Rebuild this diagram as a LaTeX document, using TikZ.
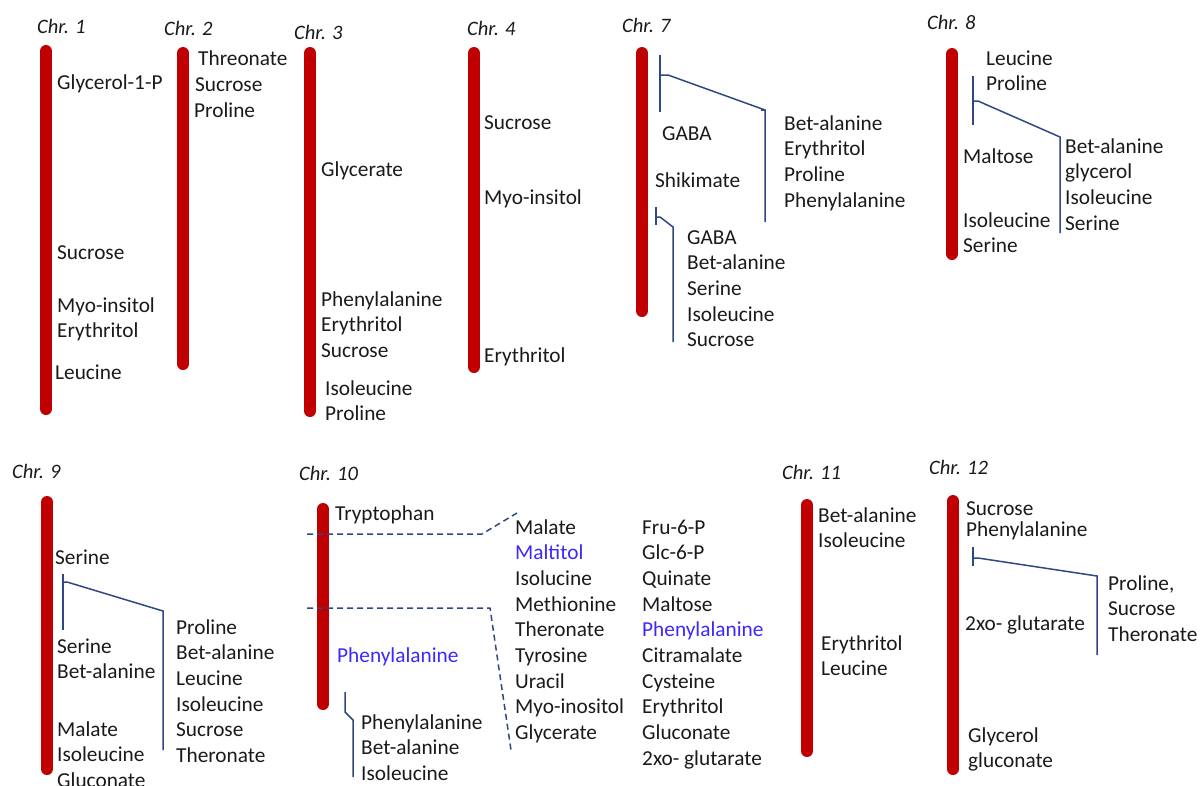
\documentclass[tikz,border=0pt]{standalone}
\usepackage{fontspec}
\setmainfont{Carlito}
\definecolor{chrred}{RGB}{192,0,0}
\definecolor{navy}{RGB}{47,72,132}
\definecolor{txt}{RGB}{26,26,26}
\definecolor{bluet}{RGB}{60,40,255}
\newcommand\mylist[4]{\foreach \t [count=\i] in {#4} {\node[lbl] (#1-\i) at (#2, {#3+(\i-1)*25.7}) {\t};}}
\tikzset{
  lbl/.style={font=\fontsize{21.3}{25.7}\selectfont, text=txt, inner sep=0pt, anchor=base west},
  chrlab/.style={font=\itshape\fontsize{20.5}{24}\selectfont, text=txt, inner sep=0pt, anchor=base west},
  bar/.style={draw=chrred, line width=12pt, line cap=round},
  link/.style={draw=navy, line width=1.5pt},
  dlink/.style={draw=navy, line width=1.5pt, dash pattern=on 6pt off 4pt}
}
\begin{document}
\begin{tikzpicture}[x=1pt,y=-1pt]
\useasboundingbox (0,0) rectangle (1200,785);
% chromosome labels
\node[chrlab] (l1) at (37,33) {Chr. 1};
\node[chrlab] (l2) at (164,35) {Chr. 2};
\node[chrlab] (l3) at (294,39) {Chr. 3};
\node[chrlab] (l4) at (467,35) {Chr. 4};
\node[chrlab] (l7) at (622,32) {Chr. 7};
\node[chrlab] (l8) at (927,29) {Chr. 8};
\node[chrlab] (l9) at (12,478) {Chr. 9};
\node[chrlab] (l10) at (299,480) {Chr. 10};
\node[chrlab] (l11) at (782,479) {Chr. 11};
\node[chrlab] (l12) at (929,474) {Chr. 12};
% bars
\draw[bar] (46,51) -- (46,409);
\draw[bar] (183,53) -- (183,364);
\draw[bar] (310,53) -- (310,411);
\draw[bar] (474,53) -- (474,367);
\draw[bar] (642,53) -- (642,311);
\draw[bar] (952,54) -- (952,254);
\draw[bar] (47,502) -- (47,769);
\draw[bar] (323,509) -- (323,704);
\draw[bar] (807,505) -- (807,751);
\draw[bar] (953,501) -- (953,769);
% Chr 1
\node[lbl] (c1a) at (57,89) {Glycerol-1-P};
\node[lbl] (c1b) at (57,259) {Sucrose};
\mylist{c1c}{57}{312}{Myo-insitol,Erythritol}
\node[lbl] (c1d) at (55,379) {Leucine};
% Chr 2
\node[lbl] (c2a) at (198,65) {Threonate};
\node[lbl] (c2b) at (195,91) {Sucrose};
\node[lbl] (c2c) at (194,117) {Proline};
% Chr 3
\node[lbl] (c3a) at (321,176) {Glycerate};
\mylist{c3b}{321}{306}{Phenylalanine,Erythritol,Sucrose}
\mylist{c3c}{325}{395}{Isoleucine,Proline}
% Chr 4
\node[lbl] (c4a) at (484,129) {Sucrose};
\node[lbl] (c4b) at (484,204) {Myo-insitol};
\node[lbl] (c4c) at (484,362) {Erythritol};
% Chr 7
\node[lbl] (c7a) at (662,140) {GABA};
\node[lbl] (c7b) at (655,187) {Shikimate};
\mylist{c7r}{784}{130}{Bet-alanine,Erythritol,Proline,Phenylalanine}
\mylist{c7l}{687}{244}{GABA,Bet-alanine,Serine,Isoleucine,Sucrose}
\coordinate (k7a) at (660,55); \coordinate (k7b) at (660,112);
\coordinate (k7c) at (660,75); \coordinate (k7d) at (668,75);
\coordinate (k7e) at (765,110); \coordinate (k7f) at (765,222); \coordinate (k7g) at (761,110);
\draw[link] (k7a) -- (k7b);
\draw[link] (k7c) -- (k7d) -- (k7e) -- (k7f);
\draw[link] (k7g) -- (k7e);
\coordinate (k7h) at (656,207); \coordinate (k7i) at (656,225);
\coordinate (k7j) at (656,217); \coordinate (k7k) at (660,217);
\coordinate (k7l) at (673,227); \coordinate (k7m) at (673,342);
\draw[link] (k7h) -- (k7i);
\draw[link] (k7j) -- (k7k) -- (k7l) -- (k7m);
% Chr 8
\mylist{c8a}{986}{65}{Leucine,Proline}
\node[lbl] (c8b) at (963,163) {Maltose};
\mylist{c8c}{963}{227}{Isoleucine,Serine}
\mylist{c8r}{1065}{153}{Bet-alanine,glycerol,Isoleucine,Serine}
\coordinate (k8a) at (973,76); \coordinate (k8b) at (973,125);
\coordinate (k8c) at (973,101); \coordinate (k8d) at (978,101);
\coordinate (k8e) at (1060,137); \coordinate (k8f) at (1060,233);
\draw[link] (k8a) -- (k8b);
\draw[link] (k8c) -- (k8d) -- (k8e) -- (k8f);
% Chr 9
\node[lbl] (c9a) at (55,564) {Serine};
\mylist{c9b}{57}{653}{Serine,Bet-alanine}
\mylist{c9c}{57}{736}{Malate,Isoleucine,Gluconate}
\mylist{c9r}{176}{634}{Proline,Bet-alanine,Leucine,Isoleucine,Sucrose,Theronate}
\coordinate (k9a) at (63,574); \coordinate (k9b) at (63,630);
\coordinate (k9c) at (63,582); \coordinate (k9d) at (67,582);
\coordinate (k9e) at (163,611); \coordinate (k9f) at (163,750);
\draw[link] (k9a) -- (k9b);
\draw[link] (k9c) -- (k9d) -- (k9e) -- (k9f);
% Chr 10
\node[lbl] (c10a) at (335,520) {Tryptophan};
\node[lbl, text=bluet] (c10b) at (337,662) {Phenylalanine};
\mylist{c10c}{361}{729}{Phenylalanine,Bet-alanine,Isoleucine}
\mylist{c10m}{515}{534}{Malate,{\textcolor{bluet}{Maltitol}},Isolucine,Methionine,Theronate,Tyrosine,Uracil,Myo-inositol,Glycerate}
\mylist{c10r}{642}{534}{Fru-6-P,Glc-6-P,Quinate,Maltose,{\textcolor{bluet}{Phenylalanine}},Citramalate,Cysteine,Erythritol,Gluconate,2xo- glutarate}
\coordinate (d1a) at (307,534); \coordinate (d1b) at (482,534); \coordinate (d1c) at (517,513);
\coordinate (d2a) at (307,608); \coordinate (d2b) at (490,608); \coordinate (d2c) at (511,750);
\draw[dlink] (d1a) -- (d1b) -- (d1c);
\draw[dlink] (d2a) -- (d2b) -- (d2c);
\coordinate (k10a) at (345,692); \coordinate (k10b) at (345,712);
\coordinate (k10c) at (353,720); \coordinate (k10d) at (353,777);
\draw[link] (k10a) -- (k10b) -- (k10c) -- (k10d);
% Chr 11
\mylist{c11a}{818}{522}{Bet-alanine,Isoleucine}
\mylist{c11b}{821}{650}{Erythritol,Leucine}
% Chr 12
\node[lbl] (c12a) at (966,515) {Sucrose};
\node[lbl] (c12b) at (966,536) {Phenylalanine};
\mylist{c12r}{1108}{590}{{Proline,},Sucrose,Theronate}
\node[lbl] (c12c) at (965,630) {2xo- glutarate};
\mylist{c12d}{968}{742}{Glycerol,gluconate}
\coordinate (k12a) at (973,547); \coordinate (k12b) at (973,566);
\coordinate (k12c) at (973,558); \coordinate (k12d) at (978,558);
\coordinate (k12e) at (1097,576); \coordinate (k12f) at (1097,655);
\draw[link] (k12a) -- (k12b);
\draw[link] (k12c) -- (k12d) -- (k12e) -- (k12f);
\end{tikzpicture}
\end{document}
